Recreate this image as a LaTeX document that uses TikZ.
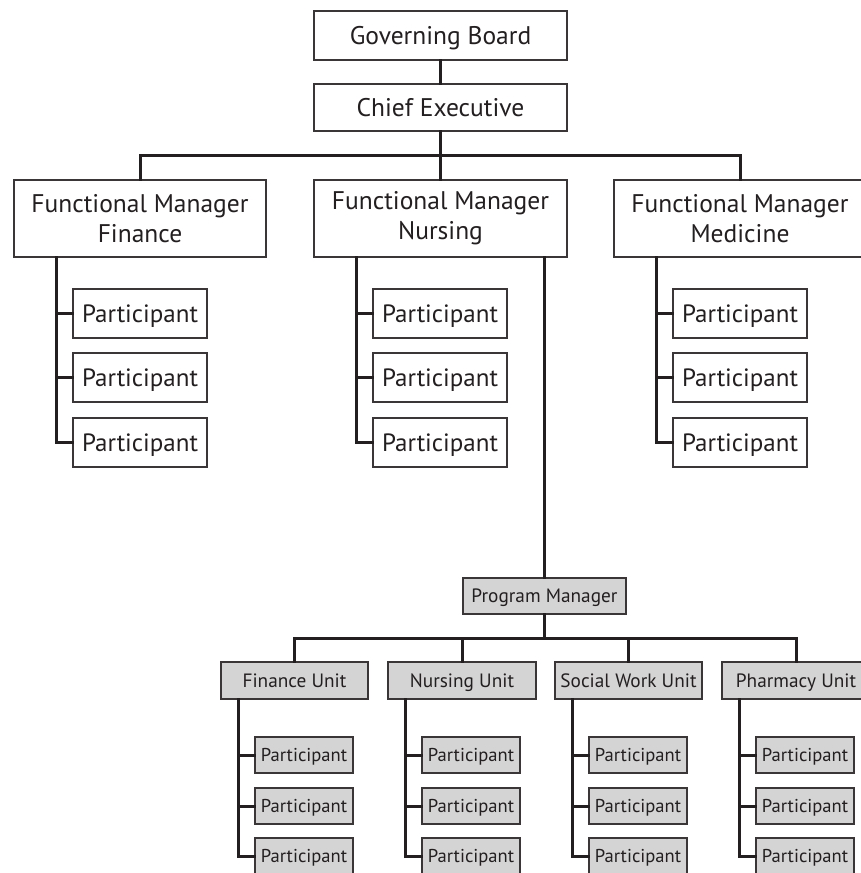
\documentclass[tikz,border=0pt]{standalone}
\usepackage{fontspec}
\setmainfont{PT Sans}
\definecolor{ink}{HTML}{231F20}
\definecolor{boxline}{HTML}{3A3637}
\definecolor{unitfill}{HTML}{D4D4D4}
\begin{document}
\begin{tikzpicture}[x=1pt,y=-1pt,
  conn/.style={draw=ink, line width=3pt, line cap=rect},
  box/.style={draw=boxline, line width=1.3pt, fill=white, inner sep=0pt, text=ink},
  oneline/.style={text height=#1, text depth=0pt},
  bigbox/.style={box, font=\fontsize{25.5}{30}\selectfont},
  partbox/.style={box, oneline=17.5pt, minimum width=134pt, minimum height=49pt, font=\fontsize{25}{30}\selectfont},
  unitbox/.style={box, oneline=13.5pt, fill=unitfill, minimum height=37pt, font=\fontsize{19.3}{23}\selectfont},
  smallpart/.style={box, oneline=13pt, fill=unitfill, minimum width=98pt, minimum height=36pt, font=\fontsize{18.6}{22}\selectfont}]
\useasboundingbox (0,0) rectangle (861,873);
\clip (0,0) rectangle (861,873);
\fill[white] (0,0) rectangle (861,873);

% top
\node[bigbox, oneline=18pt, minimum width=253pt, minimum height=49pt] (gb) at (440.5,35.5) {Governing Board};
\node[bigbox, oneline=18pt, minimum width=253pt, minimum height=47pt] (ce) at (440.5,107.5) {Chief Executive};
\coordinate (bus1) at (440.5,155);

\node[bigbox, align=center, minimum width=252pt, minimum height=77pt] (fmA) at (140,218.5) {Functional Manager\\Finance};
\node[bigbox, align=center, minimum width=253pt, minimum height=77pt] (fmB) at (440.5,218.5) {Functional Manager\\Nursing};
\node[bigbox, align=center, minimum width=252pt, minimum height=77pt] (fmC) at (740,218.5) {Functional Manager\\Medicine};

\draw[conn] (gb) -- (ce);
\draw[conn] (ce) -- (bus1);
\draw[conn] (fmA.north) |- (bus1) -| (fmC.north);
\draw[conn] (bus1) -- (fmB.north);

\foreach \g/\cx in {A/140, B/440, C/740}{
  \node[partbox] (p\g1) at (\cx,313.5) {Participant};
  \node[partbox] (p\g2) at (\cx,377.5) {Participant};
  \node[partbox] (p\g3) at (\cx,442.5) {Participant};
  \coordinate (s\g) at ([xshift=43pt]fm\g.south west);
  \draw[conn] (s\g) |- (p\g3.west);
  \draw[conn] (p\g1.west) -- (p\g1.west -| s\g);
  \draw[conn] (p\g2.west) -- (p\g2.west -| s\g);
}

% program
\node[unitbox, minimum width=163pt, minimum height=36pt] (pm) at (544.5,596) {Program Manager};
\draw[conn] (fmB.south -| pm.north) -- (pm.north);
\coordinate (bus2) at (544.5,638);

\node[unitbox, minimum width=147pt] (uA) at (294.5,680.5) {Finance Unit};
\node[unitbox, minimum width=148pt] (uB) at (462,680.5) {Nursing Unit};
\node[unitbox, minimum width=147pt] (uC) at (628.5,680.5) {Social Work Unit};
\node[unitbox, minimum width=148pt] (uD) at (796,680.5) {Pharmacy Unit};

\draw[conn] (pm) -- (bus2);
\draw[conn] (uA.north) |- (bus2) -| (uD.north);
\draw[conn] (uB.north) -- (uB.north |- bus2);
\draw[conn] (uC.north) -- (uC.north |- bus2);

\foreach \g/\cx in {A/304, B/471, C/638, D/805}{
  \node[smallpart] (q\g1) at (\cx,755) {Participant};
  \node[smallpart] (q\g2) at (\cx,806) {Participant};
  \node[smallpart] (q\g3) at (\cx,856) {Participant};
  \coordinate (t\g) at ([xshift=18pt]u\g.south west);
  \draw[conn] (t\g) |- (q\g3.west);
  \draw[conn] (q\g1.west) -- (q\g1.west -| t\g);
  \draw[conn] (q\g2.west) -- (q\g2.west -| t\g);
}
\end{tikzpicture}
\end{document}
